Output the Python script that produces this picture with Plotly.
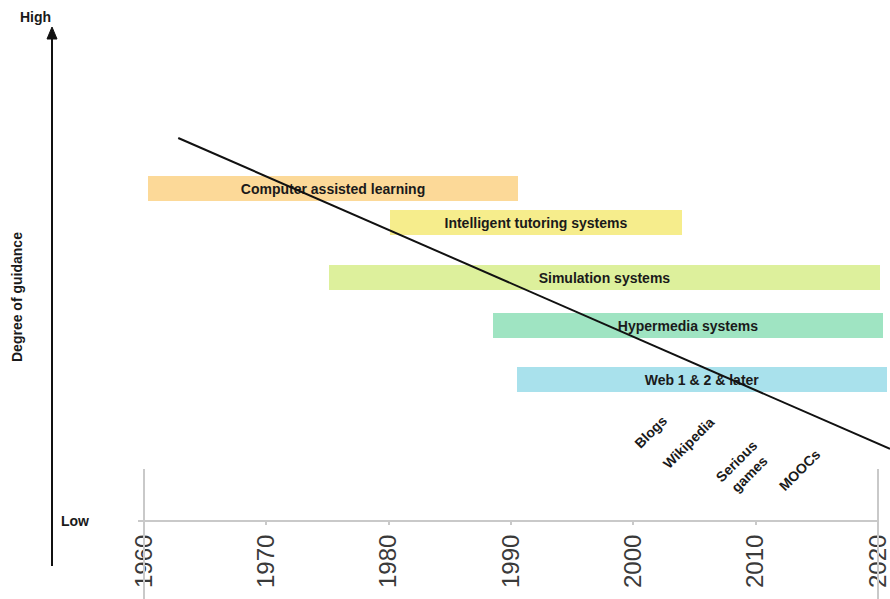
import plotly.graph_objects as go

# ---- data ----
systems = ["Computer assisted learning", "Intelligent tutoring systems", "Simulation systems",
           "Hypermedia systems", "Web 1 & 2 & later"]
start_year = [1960.3, 1980.1, 1975.1, 1988.5, 1990.5]
end_year = [1990.6, 2004.0, 2020.2, 2020.4, 2020.7]
guidance = [6.59, 5.92, 4.83, 3.88, 2.81]
bar_colors = ["#FCD998", "#F6ED8C", "#DDF09C", "#9FE4C2", "#A9E1EC"]

trend_year = [1962.8, 2020.98]
trend_guidance = [7.6, 1.43]

examples = ["Blogs", "Wikipedia", "Serious<br>games", "MOOCs"]
example_year = [2001.4, 2004.5, 2009.0, 2013.6]
example_guidance = [1.77, 1.55, 1.07, 1.01]

tick_years = [1960, 1970, 1980, 1990, 2000, 2010, 2020]

# ---- layout geometry ----
W, H = 890, 599
plot_bottom = 521  # px
px_1960, px_2020 = 144, 878
ppy = (px_2020 - px_1960) / 60.0
x_min = 1960 - px_1960 / ppy
x_max = 1960 + (W - px_1960) / ppy
px_per_unit = 50.4
y_max = plot_bottom / px_per_unit

def xp(px):
    return px / W

def yp(py):
    return (plot_bottom - py) / plot_bottom

FONT = "Liberation Sans, Arial, sans-serif"

fig = go.Figure()

fig.add_trace(go.Bar(
    y=guidance,
    x=[e - s for s, e in zip(start_year, end_year)],
    base=start_year,
    orientation="h",
    width=0.5,
    marker=dict(color=bar_colors, line=dict(width=0)),
    text=["<b>" + s + "</b>" for s in systems],
    textposition="inside",
    insidetextanchor="middle",
    textangle=0,
    constraintext="none",
    textfont=dict(family=FONT, size=14, color="#1a1a1a"),
    hoverinfo="skip",
    showlegend=False,
))

fig.add_trace(go.Scatter(
    x=trend_year, y=trend_guidance, mode="lines",
    line=dict(color="#111111", width=2),
    hoverinfo="skip", showlegend=False,
))

annotations = []
for name, xv, yv in zip(examples, example_year, example_guidance):
    annotations.append(dict(
        x=xv, y=yv, xref="x", yref="y", text="<b>" + name + "</b>",
        showarrow=False, textangle=-45, xanchor="center", yanchor="middle",
        font=dict(family=FONT, size=14, color="#1a1a1a"),
    ))

annotations += [
    dict(x=xp(35), y=10, xref="paper", yref="y", text="<b>High</b>", showarrow=False,
         xanchor="center", yanchor="middle",
         font=dict(family=FONT, size=14, color="#1a1a1a")),
    dict(x=xp(75), y=0, xref="paper", yref="y", text="<b>Low</b>", showarrow=False,
         xanchor="center", yanchor="middle",
         font=dict(family=FONT, size=14, color="#1a1a1a")),
    dict(x=xp(17), y=(plot_bottom - 297) / px_per_unit, xref="paper", yref="y",
         text="<b>Degree of guidance</b>", showarrow=False, textangle=-90,
         xanchor="center", yanchor="middle",
         font=dict(family=FONT, size=14, color="#1a1a1a")),
]

grey = "#c9c9c9"
shapes = [
    dict(type="line", xref="paper", yref="paper", x0=xp(138), x1=xp(879), y0=yp(521), y1=yp(521),
         line=dict(color=grey, width=2)),
    dict(type="line", xref="paper", yref="paper", x0=xp(px_1960), x1=xp(px_1960), y0=yp(469), y1=yp(599),
         line=dict(color=grey, width=2)),
    dict(type="line", xref="paper", yref="paper", x0=xp(px_2020), x1=xp(px_2020), y0=yp(469), y1=yp(599),
         line=dict(color=grey, width=2)),
    dict(type="line", xref="paper", yref="paper", x0=xp(52), x1=xp(52), y0=yp(566), y1=yp(36),
         line=dict(color="#111111", width=2)),
    dict(type="path", xref="paper", yref="paper",
         path=f"M {xp(47)} {yp(39)} L {xp(52)} {yp(27)} L {xp(57)} {yp(39)} Z",
         fillcolor="#111111", line=dict(color="#111111", width=1)),
]

fig.update_layout(
    width=W, height=H,
    margin=dict(l=0, r=0, t=0, b=H - plot_bottom, autoexpand=False),
    paper_bgcolor="white", plot_bgcolor="white",
    xaxis=dict(range=[x_min, x_max], showgrid=False, zeroline=False, showline=False,
               tickvals=tick_years, ticktext=[str(t) for t in tick_years],
               tickangle=-90, ticks="outside", ticklen=3, tickwidth=2, tickcolor=grey,
               ticklabeloverflow="allow",
               tickfont=dict(family=FONT, size=24, color="#3a3a3a"),
               fixedrange=True),
    yaxis=dict(range=[0, y_max], visible=False, fixedrange=True),
    annotations=annotations,
    shapes=shapes,
    bargap=0,
)

fig.write_html(
    "out.html",
    config={"displayModeBar": False},
    post_script="document.body.style.margin='0px';document.body.style.overflow='hidden';",
)
